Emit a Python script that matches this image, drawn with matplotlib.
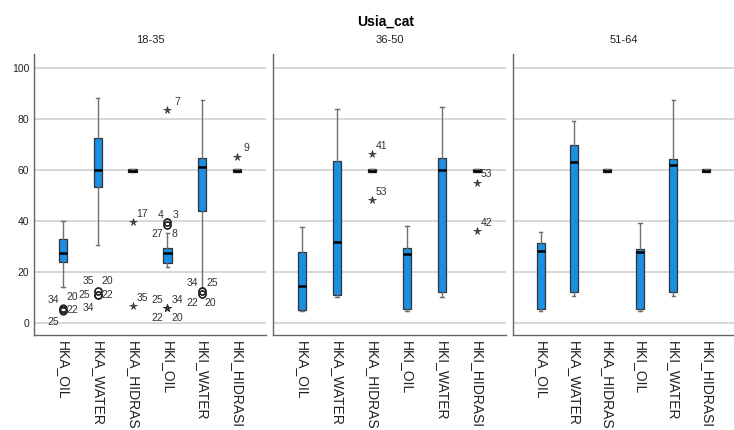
import matplotlib.pyplot as plt

plt.rcParams['font.family'] = ['Liberation Sans', 'DejaVu Sans']

groups = ['18-35', '36-50', '51-64']
variables = ['HKA_OIL', 'HKA_WATER', 'HKA_HIDRAS', 'HKI_OIL', 'HKI_WATER', 'HKI_HIDRASI']

# box statistics per age group (one value per variable)
q1 = [[24.0, 53.3, 59.1, 23.6, 43.7, 59.1],
      [5.0, 11.0, 59.0, 5.4, 12.2, 59.0],
      [5.4, 11.9, 59.0, 5.4, 11.9, 59.0]]
med = [[27.2, 60.0, 59.4, 27.4, 60.9, 59.4],
       [14.3, 31.8, 59.6, 26.9, 59.8, 59.6],
       [28.3, 62.9, 59.6, 27.8, 62.0, 59.6]]
q3 = [[32.9, 72.6, 60.2, 29.5, 64.5, 60.2],
      [27.9, 63.3, 60.3, 29.2, 64.6, 60.3],
      [31.3, 69.6, 60.3, 28.8, 64.2, 60.3]]
whislo = [[13.9, 30.6, 59.1, 21.9, 13.7, 59.1],
          [4.5, 10.2, 59.0, 4.7, 10.2, 59.0],
          [4.7, 10.6, 59.0, 4.7, 10.6, 59.0]]
whishi = [[39.8, 88.3, 60.2, 35.1, 87.4, 60.2],
          [37.7, 83.9, 60.3, 38.1, 84.7, 60.3],
          [35.5, 79.3, 60.3, 39.2, 87.3, 60.3]]

# outliers: (group index, variable index, value, case label)
circles = [(0, 0, 5.6, '34'), (0, 0, 5.3, '20'), (0, 0, 5.0, '22'), (0, 0, 4.8, '25'),
           (0, 1, 12.4, '35'), (0, 1, 12.4, '20'), (0, 1, 10.7, '25'), (0, 1, 10.7, '22'),
           (0, 1, 10.7, '34'),
           (0, 3, 39.4, '4'), (0, 3, 39.4, '3'), (0, 3, 38.2, '27'), (0, 3, 38.2, '8'),
           (0, 4, 12.3, '34'), (0, 4, 12.3, '25'), (0, 4, 11.4, '22'), (0, 4, 11.4, '20')]
stars = [(0, 2, 39.4, '17'), (0, 2, 6.5, '35'), (0, 3, 83.4, '7'),
         (0, 3, 5.6, '25'), (0, 3, 5.6, '34'), (0, 3, 5.6, '22'), (0, 3, 5.6, '20'),
         (0, 5, 65.2, '9'),
         (1, 2, 66.1, '41'), (1, 2, 48.0, '53'), (1, 5, 55.0, '53'), (1, 5, 36.0, '42')]

# label offsets in points, keyed by (group, variable, label)
offsets = {(0, 0, '34'): (-7, 6), (0, 0, '20'): (7, 9), (0, 0, '22'): (7, 0), (0, 0, '25'): (-7, -8),
           (0, 1, '35'): (-7, 7), (0, 1, '20'): (7, 7), (0, 1, '25'): (-10, 0), (0, 1, '22'): (7, 0),
           (0, 1, '34'): (-7, -9),
           (0, 3, '4'): (-5, 5), (0, 3, '3'): (6, 5), (0, 3, '27'): (-7, -6), (0, 3, '8'): (5, -6),
           (0, 3, '25'): (-7, 6), (0, 3, '34'): (7, 6), (0, 3, '22'): (-7, -7), (0, 3, '20'): (7, -7),
           (0, 4, '34'): (-7, 6), (0, 4, '25'): (7, 6), (0, 4, '22'): (-7, -7), (0, 4, '20'): (6, -7)}

box_color = '#1a8fe3'
fig = plt.figure(figsize=(7.34, 4.30), dpi=100)
fig.text(0.525, 0.949, 'Usia_cat', ha='center', va='center', fontsize=10, fontweight='bold')

lefts = [34, 273, 513]
widths = [232, 233, 221]
for g in range(3):
    ax = fig.add_axes([lefts[g] / 734, 1 - 335 / 430, widths[g] / 734, 281 / 430])
    stats = [dict(med=med[g][i], q1=q1[g][i], q3=q3[g][i], whislo=whislo[g][i],
                  whishi=whishi[g][i], fliers=[]) for i in range(len(variables))]
    ax.bxp(stats, positions=range(1, 7), widths=0.24, patch_artist=True, showfliers=False,
           boxprops=dict(facecolor=box_color, edgecolor='#333333', linewidth=0.9),
           medianprops=dict(color='black', linewidth=1.8),
           whiskerprops=dict(color='#707070', linewidth=1.0),
           capprops=dict(color='#707070', linewidth=1.0), capwidths=0.1, zorder=3)
    for (gg, v, val, lab) in circles:
        if gg != g:
            continue
        ax.plot(v + 1, val, 'o', mfc='none', mec='#222222', ms=5, mew=1.0, zorder=4)
        dx, dy = offsets.get((gg, v, lab), (6, 6))
        ax.annotate(lab, (v + 1, val), xytext=(dx, dy), textcoords='offset points',
                    ha='center', va='center', fontsize=7.5, color='#333333')
    for (gg, v, val, lab) in stars:
        if gg != g:
            continue
        ax.plot(v + 1, val, '*', mfc='#444444', mec='#222222', mew=0.4, ms=5.5, zorder=4)
        dx, dy = offsets.get((gg, v, lab), (7, 6))
        ax.annotate(lab, (v + 1, val), xytext=(dx, dy), textcoords='offset points',
                    ha='center', va='center', fontsize=7.5, color='#333333')

    ax.set_xlim(0.17, 6.83)
    ax.set_ylim(-4.8, 105.4)
    ax.set_yticks([0, 20, 40, 60, 80, 100])
    ax.yaxis.grid(True, color='#d4d4d4', linewidth=1.3, zorder=0)
    ax.set_axisbelow(True)
    ax.set_xticks(range(1, 7))
    ax.set_xticklabels(variables, rotation=270, fontsize=10, color='#222222')
    ax.tick_params(axis='both', length=0, labelsize=7.5, colors='#222222')
    ax.tick_params(axis='x', labelsize=10, pad=4)
    if g > 0:
        ax.set_yticklabels([])
    for s in ['top', 'right']:
        ax.spines[s].set_visible(False)
    for s in ['left', 'bottom']:
        ax.spines[s].set_color('#666666')
        ax.spines[s].set_linewidth(1.0)
    ax.set_title(groups[g], fontsize=8, pad=8, color='#222222')

fig.savefig('out.png', dpi=100)
